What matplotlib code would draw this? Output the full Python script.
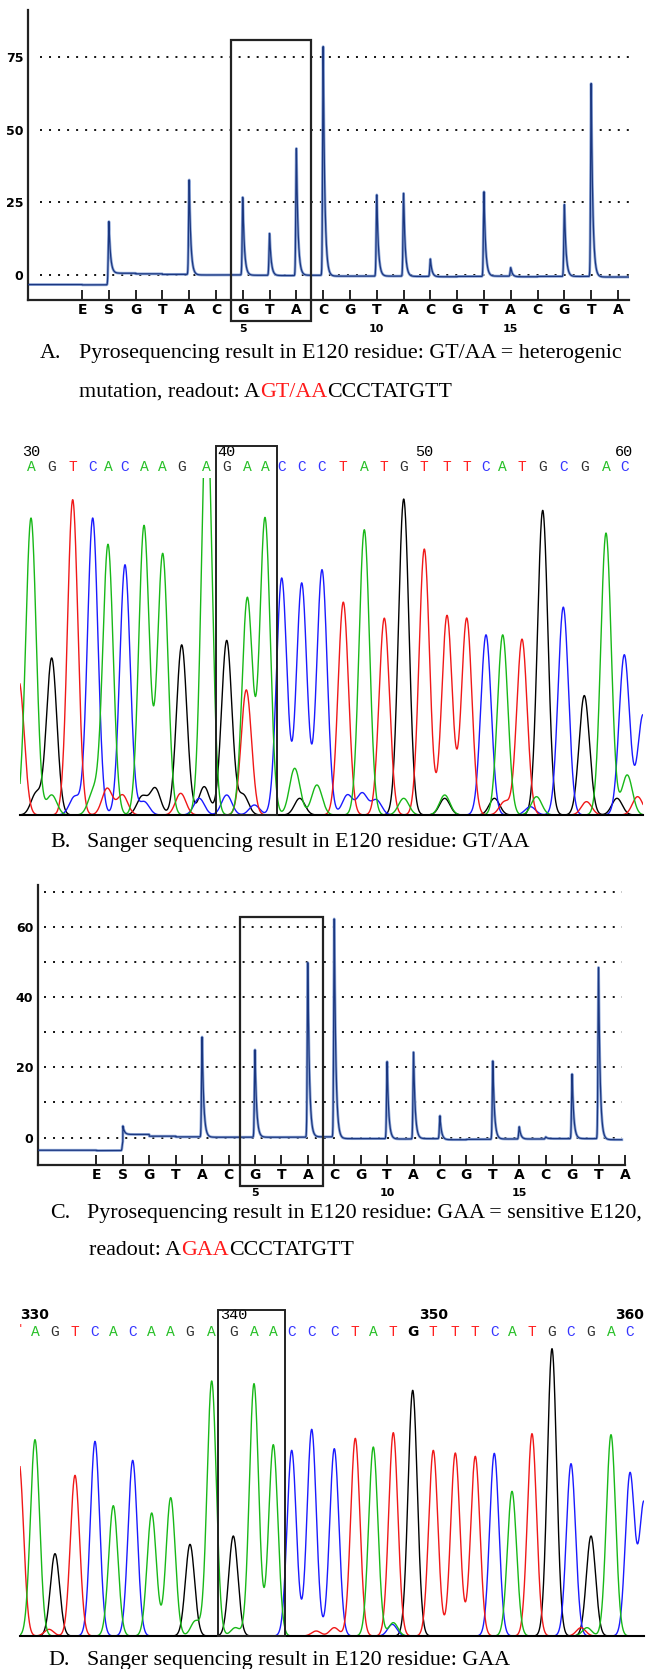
import numpy as np
import matplotlib
matplotlib.use('Agg')
import matplotlib.pyplot as plt
from matplotlib.patches import Rectangle
from matplotlib.transforms import blended_transform_factory

W, H, DPI = 646, 1669, 100

# --- pyrogram data (A and C) ---
dispensation = list("ESGTACGTACGTACGTACGTA")
disp_numbers = [5, 10, 15]
peaks_a = [0, 19, 0, 0, 33, 0, 27, 14.5, 44, 79, 0, 28, 28.5, 6, 0, 29, 3, 0, 25, 67, 0]
baseline_a = [-3.4, 0.6, 0.4, 0.2, 0.0, 0.0, -0.1, -0.2, -0.1, -0.4, -0.4, -0.4, -0.5,
              -0.6, -0.5, -0.4, -0.6, -0.5, -0.5, -0.7, -0.7]
pre_level_a = -3.3
peaks_c = [0, 2.5, 0, 0, 28.5, 0, 25, 0, 50, 63, 0, 22, 25, 6.5, 0, 22.5, 3.5, 0.5, 18.5, 49.5, 1]
baseline_c = [-3.7, 0.9, 0.4, 0.2, 0.1, 0.1, 0.1, 0.1, 0.2, -0.3, -0.3, -0.4, -0.3,
              -0.6, -0.5, -0.4, -0.4, -0.3, -0.3, -0.6, -0.6]
pre_level_c = -3.6
yticks_a = [0, 25, 50, 75]
yticks_c = [0, 20, 40, 60]
ygrid_c = [0, 10, 20, 30, 40, 50, 60, 70]

# --- Sanger data (B and D): called bases, scan positions of the peaks, peak heights ---
sanger_seq = "AGTCACAAGAGAACCCTATGTTTCATGCGAC"
scan_b = [31, 51.7, 72.7, 92.7, 108, 125, 144, 162.7, 181.7, 206.7, 226.7, 247.3, 265, 281.7,
          301.7, 322, 343.3, 364.3, 384.3, 403.7, 424.3, 447, 466.7, 486, 502.7, 522, 542.7,
          563.3, 584.3, 606, 624.3]
heights_b = [890, 470, 945, 890, 810, 750, 867, 783, 510, 1250, 523, 650, 890, 710, 695, 735,
             638, 855, 590, 947, 797, 598, 560, 540, 540, 527, 913, 623, 358, 845, 480]
scan_d = [35, 55, 75, 95, 113.3, 132.7, 151.7, 170.7, 190, 211.7, 233.3, 254, 273.3, 291.7,
          311.7, 334.3, 355.3, 373.3, 393.3, 412.7, 433.3, 455.3, 475.3, 494.3, 512, 532, 552,
          571, 591, 611, 630]
heights_d = [589, 247, 482, 584, 391, 527, 369, 415, 275, 765, 300, 757, 574, 557, 620, 562,
             593, 567, 610, 737, 557, 549, 539, 548, 434, 607, 862, 517, 300, 604, 487]
# secondary / background peaks
minor_b_scan = [19, 36.2, 51.7, 74.7, 93.5, 107.2, 122.5, 142.1, 144, 155.2, 180.7, 199.2, 204.2,
                226.7, 243.2, 246.3, 254.4, 294.7, 299.7, 316.9, 347.5, 362.2, 376.3, 403.7,
                444.7, 444.7, 466.7, 494.4, 504.6, 530.3, 536.5, 586.5, 617, 627.2, 637.6, 643]
minor_b_base = list("TGACATTGCGTCGCGTCAGACCCAGATGTCATGATC")
minor_b_height = [400, 65, 60, 55, 70, 80, 60, 55, 40, 80, 65, 50, 85, 60, 60, 375, 30, 140,
                  50, 90, 60, 65, 45, 50, 50, 60, 30, 50, 40, 25, 55, 40, 50, 120, 55, 300]
minor_d_scan = [19, 49, 195.4, 235.4, 316.2, 334.3, 392.3, 393.3, 581, 587, 644]
minor_d_base = list("TTAATTCATAC")
minor_d_height = [520, 20, 45, 25, 15, 25, 35, 40, 25, 25, 400]
numbers_b = [30, 40, 50, 60]
numbers_d = [330, 340, 350, 360]

trace_colors = {'G': '#000000', 'C': '#1a1aff', 'T': '#f01818', 'A': '#18b818'}
letter_colors = {'G': '#303030', 'C': '#3535ff', 'T': '#ff2020', 'A': '#28c028'}
RED = '#ff1a1a'

plt.rcParams['font.family'] = ['DejaVu Sans']
fig = plt.figure(figsize=(W / DPI, H / DPI), dpi=DPI)


def fy(y):
    return 1 - y / H


def px_axes(x0, y0, x1, y1):
    return fig.add_axes([x0 / W, fy(y1), (x1 - x0) / W, (y1 - y0) / H])


def pyrogram(rect, peaks, base, pre, xlim, ylim, yticks, ygrid, grid_x0,
             box_x, box_y, num_y):
    ax = px_axes(*rect)
    n = len(peaks)
    idx = np.arange(n)
    x = np.linspace(xlim[0], xlim[1], 5000)
    seg = np.searchsorted(idx, x, side='right') - 1
    y = np.where(seg < 0, pre, np.array(base)[np.clip(seg, 0, n - 1)])
    for p, h in zip(idx, peaks):
        d = x - p
        y = y + h * np.where(d < 0, np.exp(-(d / 0.03) ** 2), np.exp(-d / 0.06))
    for g in ygrid:
        ax.hlines(g, grid_x0, xlim[1], colors='k', lw=1.3, linestyles=(0, (1.1, 3.9)), zorder=1)
    ax.plot(x, y, color='#90a8d8', lw=2.0, zorder=2)
    ax.plot(x, y, color='#1b3780', lw=0.9, zorder=3)
    ax.set_xlim(*xlim)
    ax.set_ylim(*ylim)
    ax.set_yticks(yticks)
    ax.tick_params(axis='y', length=0, pad=3.5, labelsize=9)
    for lab in ax.get_yticklabels():
        lab.set_fontweight('bold')
    ax.set_xticks(idx)
    ax.set_xticklabels(dispensation, fontsize=10, fontweight='bold')
    ax.tick_params(axis='x', direction='in', length=7, width=1.2, pad=2.5)
    for s in ['top', 'right']:
        ax.spines[s].set_visible(False)
    for s in ['left', 'bottom']:
        ax.spines[s].set_linewidth(1.6)
        ax.spines[s].set_color('#222222')
    tr = blended_transform_factory(ax.transData, fig.transFigure)
    for num in disp_numbers:
        fig.text(num + 1, fy(num_y), str(num), transform=tr, ha='center', va='center',
                 fontsize=8, fontweight='bold')
    fig.add_artist(Rectangle((box_x[0], fy(box_y[1])), box_x[1] - box_x[0],
                             (box_y[1] - box_y[0]) / H, transform=tr, fill=False,
                             ec='#222222', lw=1.6, clip_on=False, zorder=5))
    return ax


def sanger(rect, scan, heights, mscan, mbase, mheight, sigma, ylim, numbers, num0,
           num_y, let_y, box_x, box_y, bold_nums=(), bold_letters=()):
    ax = px_axes(*rect)
    xlim = (rect[0], rect[2])
    x = np.linspace(xlim[0], xlim[1], 4000)
    for b in 'GCTA':
        y = np.zeros_like(x)
        for s, p, h in zip(sanger_seq, scan, heights):
            if s == b:
                y += h * np.exp(-((x - p) / sigma) ** 2 / 2)
        for p, s, h in zip(mscan, mbase, mheight):
            if s == b:
                y += h * np.exp(-((x - p) / sigma) ** 2 / 2)
        ax.plot(x, y, color=trace_colors[b], lw=1.0)
    ax.set_xlim(*xlim)
    ax.set_ylim(*ylim)
    ax.set_xticks([])
    ax.set_yticks([])
    for s in ['top', 'right', 'left']:
        ax.spines[s].set_visible(False)
    ax.spines['bottom'].set_linewidth(1.5)
    tr = blended_transform_factory(ax.transData, fig.transFigure)
    for i, (s, p) in enumerate(zip(sanger_seq, scan)):
        if i in bold_letters:
            fig.text(p, fy(let_y), s, transform=tr, ha='center', va='center',
                     fontsize=10, fontweight='bold', color='k')
        else:
            fig.text(p, fy(let_y), s, transform=tr, ha='center', va='center',
                     fontsize=10.5, family='Liberation Mono', color=letter_colors[s])
    for num in numbers:
        p = scan[num - num0]
        if num in bold_nums:
            fig.text(p, fy(num_y), str(num), transform=tr, ha='center', va='center',
                     fontsize=10, fontweight='bold')
        else:
            fig.text(p, fy(num_y), str(num), transform=tr, ha='center', va='center',
                     fontsize=11, family='Liberation Mono')
    fig.add_artist(Rectangle((box_x[0], fy(box_y[1])), box_x[1] - box_x[0],
                             (box_y[1] - box_y[0]) / H, transform=tr,
                             fill=False, ec='#222222', lw=1.4, clip_on=False, zorder=5))
    return ax, tr


renderer = fig.canvas.get_renderer()


def caption(x, y, parts, size=15.8):
    for s, c in parts:
        t = fig.text(x / W, fy(y), s, color=c, fontsize=size, family='Liberation Serif',
                     ha='left', va='baseline')
        x += t.get_window_extent(renderer).width


# A
pyrogram((28, 10, 629, 300), peaks_a, baseline_a, pre_level_a, (-2.015, 20.41), (-8.6, 91.1),
         yticks_a, yticks_a, -1.58, (5.56, 8.53), (40, 321), 329)
caption(40, 358, [("A.", 'k')])
caption(79, 358, [("Pyrosequencing result in E120 residue: GT/AA = heterogenic", 'k')])
caption(79, 397, [("mutation, readout: A", 'k'), ("GT/AA", RED), ("CCCTATGTT", 'k')])

# B
sanger((20, 478, 643, 815), scan_b, heights_b, minor_b_scan, minor_b_base, minor_b_height, 5.2,
       (0, 1010), numbers_b, 30, 452, 467, (216, 276.7), (446, 815))
caption(50, 847, [("B.", 'k')])
caption(87, 847, [("Sanger sequencing result in E120 residue: GT/AA", 'k')])

# C
pyrogram((38, 885, 625, 1165), peaks_c, baseline_c, pre_level_c, (-2.21, 19.88), (-7.8, 71.9),
         yticks_c, ygrid_c, -1.99, (5.42, 8.56), (917, 1186), 1193)
caption(50, 1218, [("C.", 'k')])
caption(87, 1218, [("Pyrosequencing result in E120 residue: GAA = sensitive E120,", 'k')])
caption(89, 1255, [("readout: A", 'k'), ("GAA", RED), ("CCCTATGTT", 'k')])

# D
ax_d, tr_d = sanger((20, 1340, 644, 1636), scan_d, heights_d, minor_d_scan, minor_d_base,
                    minor_d_height, 4.6, (0, 888), numbers_d, 330, 1315, 1332,
                    (218.3, 285), (1310, 1636), bold_nums=(330, 350, 360), bold_letters=(19,))
fig.text(20, fy(1329), "'", transform=tr_d, ha='center', va='center', color=RED, fontsize=9)
caption(48, 1665, [("D.", 'k')])
caption(87, 1665, [("Sanger sequencing result in E120 residue: GAA", 'k')])

fig.savefig('out.png', dpi=DPI)
